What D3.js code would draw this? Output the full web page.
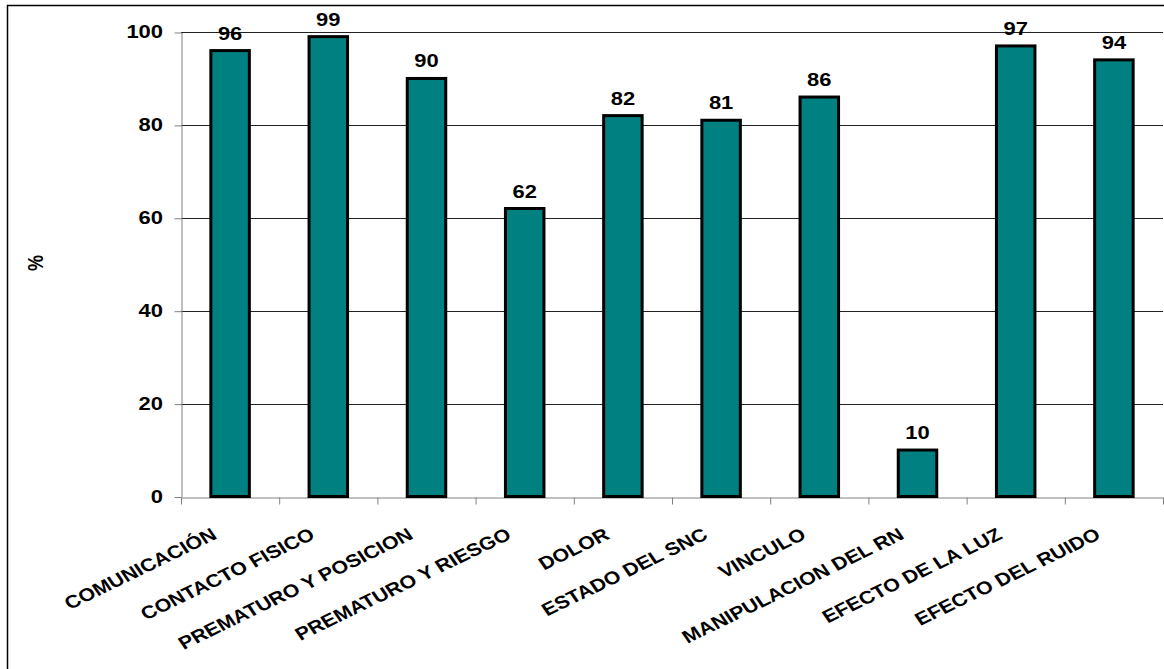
<!DOCTYPE html>
<html>
<head>
<meta charset="utf-8">
<script src="https://cdn.jsdelivr.net/npm/d3@7"></script>
<style>
	body { margin: 0; background: #fff; }
	text { font-family: "Liberation Sans", Arial, sans-serif; font-weight: bold; fill: #000; }
</style>
</head>
<body>
<script>
const categories = ['COMUNICACIÓN', 'CONTACTO FISICO', 'PREMATURO Y POSICION', 'PREMATURO Y RIESGO', 'DOLOR',
	'ESTADO DEL SNC', 'VINCULO', 'MANIPULACION DEL RN', 'EFECTO DE LA LUZ', 'EFECTO DEL RUIDO'];
const values = [96, 99, 90, 62, 82, 81, 86, 10, 97, 94];
const yTicks = [0, 20, 40, 60, 80, 100];
const yTitle = '%';

const w = 1164,
	h = 669;
const plotLeft = 181,
	plotRight = 1163,
	plotTop = 32,
	plotBottom = 496.5;
//the original picture is stretched sideways, so text gets the same stretch
const sx = 1.22,
	sxCat = 1.19;

const svg = d3.select('body')
	.append('svg')
	.attr('width', w)
	.attr('height', h);

//outer frame (right and bottom edges fall outside the picture)
svg.append('rect')
	.attr('x', 7.5)
	.attr('y', 5.5)
	.attr('width', w)
	.attr('height', h)
	.attr('fill', 'none')
	.attr('stroke', '#000')
	.attr('stroke-width', 1.5);

const x = d3.scaleBand()
	.domain(categories)
	.range([plotLeft, plotRight])
	.paddingInner(0.608)
	.paddingOuter(0.304);

const y = d3.scaleLinear()
	.domain([0, 100])
	.range([plotBottom, plotTop]);

//gridlines
svg.append('g')
	.selectAll('line')
	.data(yTicks.filter((d) => d > 0))
	.enter()
	.append('line')
	.attr('x1', plotLeft)
	.attr('x2', plotRight)
	.attr('y1', (d) => Math.round(y(d)) + 0.5)
	.attr('y2', (d) => Math.round(y(d)) + 0.5)
	.attr('stroke', '#222')
	.attr('stroke-width', 1);

//y axis
const yAxis = svg.append('g')
	.attr('transform', `translate(${plotLeft + 0.5},0.5)`)
	.call(d3.axisLeft(y).tickValues(yTicks).tickSize(7).tickSizeOuter(0).tickFormat(''));
yAxis.selectAll('line, path').attr('stroke', '#808080');

svg.append('g')
	.selectAll('g')
	.data(yTicks)
	.enter()
	.append('g')
	.attr('transform', (d) => `translate(163,${y(d)})`)
	.append('text')
	.attr('transform', `scale(${sx},1)`)
	.attr('text-anchor', 'end')
	.attr('dy', '0.36em')
	.style('font-size', '18px')
	.text((d) => d);

//x axis with ticks between the categories
const xTick = d3.scaleLinear()
	.domain([0, categories.length])
	.range([plotLeft, plotRight]);
const xAxis = svg.append('g')
	.attr('transform', `translate(0,${Math.round(plotBottom) + 0.5})`)
	.call(d3.axisBottom(xTick).tickValues(d3.range(categories.length + 1)).tickSize(7).tickSizeOuter(0).tickFormat(''));
xAxis.selectAll('line, path').attr('stroke', '#808080');

//bars
svg.append('g')
	.selectAll('rect')
	.data(values)
	.enter()
	.append('rect')
	.attr('x', (d, i) => x(categories[i]))
	.attr('y', (d) => y(d))
	.attr('width', x.bandwidth())
	.attr('height', (d) => y(0) - y(d))
	.attr('fill', '#008080')
	.attr('stroke', '#000')
	.attr('stroke-width', 3);

//value labels
svg.append('g')
	.selectAll('g')
	.data(values)
	.enter()
	.append('g')
	.attr('transform', (d, i) => `translate(${x(categories[i]) + x.bandwidth() / 2},${y(d) - 11})`)
	.append('text')
	.attr('transform', `scale(${sx},1)`)
	.attr('text-anchor', 'middle')
	.style('font-size', '18px')
	.text((d) => d);

//category labels
svg.append('g')
	.selectAll('g')
	.data(categories)
	.enter()
	.append('g')
	.attr('transform', (d) => `translate(${x(d) + x.bandwidth() / 2 - 12},538) scale(${sxCat},1) rotate(-30)`)
	.append('text')
	.attr('text-anchor', 'end')
	.style('font-size', '18px')
	.text((d) => d);

//y title
svg.append('g')
	.attr('transform', `translate(43,263) scale(${sx},1) rotate(-90)`)
	.append('text')
	.attr('text-anchor', 'middle')
	.style('font-size', '18px')
	.text(yTitle);
</script>
</body>
</html>
